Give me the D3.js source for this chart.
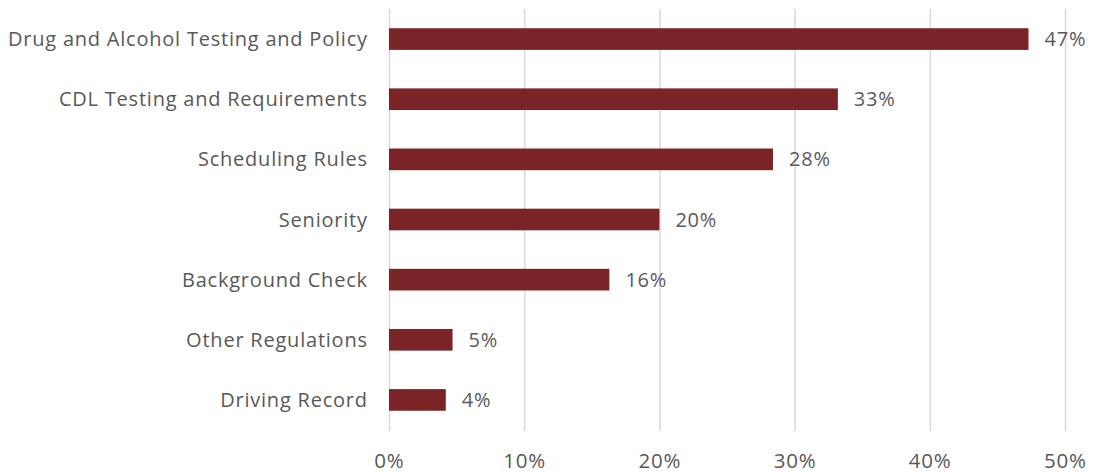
<!DOCTYPE html>
<html><head><meta charset="utf-8">
<script src="https://cdn.jsdelivr.net/npm/d3@7"></script>
<style>body{margin:0;background:#fff}svg{display:block}text{font-family:"Open Sans",sans-serif;fill:#595959;letter-spacing:0.78px}</style>
</head><body><svg id="c" width="1094" height="472"></svg>
<script>
const categories = ["Drug and Alcohol Testing and Policy","CDL Testing and Requirements","Scheduling Rules","Seniority","Background Check","Other Regulations","Driving Record"];
const values = [47.3, 33.2, 28.4, 20.0, 16.3, 4.7, 4.2];
const valueLabels = ["47%","33%","28%","20%","16%","5%","4%"];
const ticks = [0,10,20,30,40,50];
const tickLabels = ["0%","10%","20%","30%","40%","50%"];

const svg = d3.select("#c");
const x = d3.scaleLinear().domain([0,50]).range([389,1065]);
const y = d3.scaleBand().domain(categories).range([9,430]).paddingInner(0.64).paddingOuter(0.32);

svg.append("g").selectAll("line").data(ticks).join("line")
  .attr("x1",d=>x(d)+0.5).attr("x2",d=>x(d)+0.5).attr("y1",9).attr("y2",431)
  .attr("stroke","#d9d9d9").attr("stroke-width",1.5);

svg.append("g").selectAll("rect").data(values).join("rect")
  .attr("x",x(0)).attr("y",(d,i)=>y(categories[i]))
  .attr("width",d=>x(d)-x(0)).attr("height",y.bandwidth())
  .attr("fill","#7b2427");

svg.append("g").selectAll("text").data(values).join("text")
  .attr("x",d=>x(d)+16).attr("y",(d,i)=>y(categories[i])+y.bandwidth()/2)
  .attr("dy","0.35em").attr("font-size",20).text((d,i)=>valueLabels[i]);

svg.append("g").selectAll("text").data(categories).join("text")
  .attr("x",367.8).attr("y",d=>y(d)+y.bandwidth()/2).attr("dy","0.35em")
  .attr("text-anchor","end").attr("font-size",20).text(d=>d);

svg.append("g").selectAll("text").data(ticks).join("text")
  .attr("x",d=>x(d)+0.4).attr("y",467.5)
  .attr("text-anchor","middle").attr("font-size",20.5).text((d,i)=>tickLabels[i]);
</script></body></html>
